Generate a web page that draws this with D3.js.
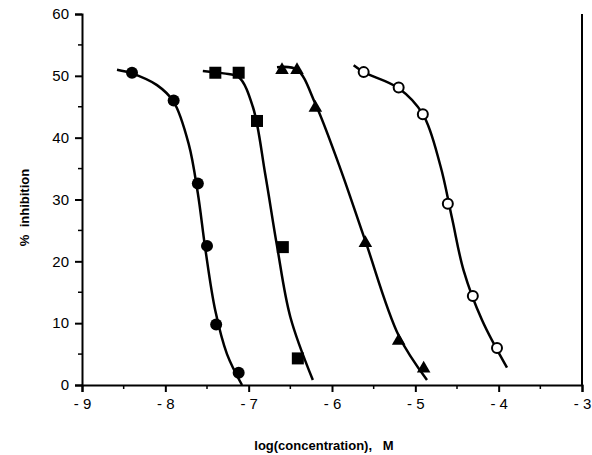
<!DOCTYPE html>
<html><head><meta charset="utf-8">
<script src="https://cdn.jsdelivr.net/npm/d3@7"></script>
<style>body{margin:0;background:#fff}svg{display:block}</style>
</head><body>
<svg id="c" width="592" height="455"></svg>
<script>
// ---- data ----
const xTicks = [-9,-8,-7,-6,-5,-4,-3];
const yTicks = [0,10,20,30,40,50,60];
// filled circles
const circlePts = [[-8.40,50.5],[-7.90,46.0],[-7.61,32.6],[-7.50,22.5],[-7.39,9.8],[-7.12,2.0]];
const circleCurve = [[-8.58,51.0],[-8.40,50.4],[-8.10,48.5],[-7.90,45.8],[-7.72,39.0],[-7.61,31.0],[-7.52,22.0],[-7.40,12.0],[-7.26,5.0],[-7.08,0.0]];
// filled squares
const squarePts = [[-7.40,50.5],[-7.12,50.5],[-6.90,42.7],[-6.59,22.3],[-6.41,4.3]];
const squareCurve = [[-7.55,50.8],[-7.30,50.4],[-7.12,49.8],[-6.95,45.0],[-6.80,34.0],[-6.66,22.5],[-6.50,11.0],[-6.23,0.8]];
// filled triangles
const trianglePts = [[-6.60,51.1],[-6.42,51.1],[-6.20,45.0],[-5.60,23.1],[-5.20,7.3],[-4.90,2.8]];
const triangleCurve = [[-6.66,51.4],[-6.42,51.0],[-6.20,45.5],[-5.90,35.0],[-5.60,23.3],[-5.20,8.0],[-4.86,0.8]];
// open circles
const openPts = [[-5.62,50.6],[-5.20,48.1],[-4.91,43.8],[-4.61,29.3],[-4.31,14.4],[-4.02,6.0]];
const openCurve = [[-5.74,51.7],[-5.62,50.6],[-5.20,48.0],[-4.91,43.8],[-4.70,35.5],[-4.56,27.0],[-4.42,18.5],[-4.20,10.5],[-3.90,2.8]];

const xLabel = "log(concentration),   M";
const yLabel = "%  inhibition";

// ---- drawing ----
const svg = d3.select("#c");
const L = 82, R = 582, T = 14, B = 385;
const x = d3.scaleLinear().domain([-9,-3]).range([L,R]);
const y = d3.scaleLinear().domain([0,60]).range([B,T]);
const font = "'Liberation Sans', Arial, sans-serif";

// axes
const xAxis = d3.axisBottom(x).tickValues(xTicks).tickSize(7).tickPadding(6)
  .tickFormat(d => "- " + Math.abs(d));
const gx = svg.append("g").attr("transform",`translate(0,${B})`).call(xAxis);
const yAxis = d3.axisLeft(y).tickValues(yTicks).tickSize(7).tickPadding(6);
const gy = svg.append("g").attr("transform",`translate(${L},0)`).call(yAxis);
[gx,gy].forEach(g=>{
  g.select(".domain").attr("stroke","#000").attr("stroke-width",2);
  g.selectAll(".tick line").attr("stroke","#000").attr("stroke-width",2);
  g.selectAll(".tick text").attr("fill","#000").style("font-family",font)
   .style("font-size","15px");
});
// minor ticks
const xMinor = d3.range(-8.5,-3,1);
svg.append("g").selectAll("line").data(xMinor).join("line")
  .attr("x1",d=>x(d)).attr("x2",d=>x(d)).attr("y1",B).attr("y2",B+4)
  .attr("stroke","#000").attr("stroke-width",1.5);
const yMinor = d3.range(5,60,10);
svg.append("g").selectAll("line").data(yMinor).join("line")
  .attr("x1",L-4).attr("x2",L).attr("y1",d=>y(d)).attr("y2",d=>y(d))
  .attr("stroke","#000").attr("stroke-width",1.5);
// right frame line
svg.append("line").attr("x1",R).attr("x2",R).attr("y1",T).attr("y2",B)
  .attr("stroke","#000").attr("stroke-width",2);

// axis titles
svg.append("text").attr("x",(L+R)/2-8).attr("y",450).attr("text-anchor","middle")
  .style("font-family",font).style("font-weight","bold").style("font-size","13px")
  .style("white-space","pre").text(xLabel);
svg.append("text").attr("transform",`translate(29,${(T+B)/2+8}) rotate(-90)`)
  .attr("text-anchor","middle").style("font-family",font).style("font-weight","bold")
  .style("font-size","13px").style("white-space","pre").text(yLabel);

// curves
const line = d3.line().x(d=>x(d[0])).y(d=>y(d[1])).curve(d3.curveCatmullRom.alpha(0.5));
[circleCurve,squareCurve,triangleCurve,openCurve].forEach(c=>{
  svg.append("path").attr("d",line(c)).attr("fill","none")
    .attr("stroke","#000").attr("stroke-width",2.5);
});

// markers
svg.append("g").selectAll("circle").data(circlePts).join("circle")
  .attr("cx",d=>x(d[0])).attr("cy",d=>y(d[1])).attr("r",6).attr("fill","#000");
svg.append("g").selectAll("rect").data(squarePts).join("rect")
  .attr("x",d=>x(d[0])-6).attr("y",d=>y(d[1])-6).attr("width",12).attr("height",12).attr("fill","#000");
const tri = d3.symbol().type(d3.symbolTriangle).size(80);
svg.append("g").selectAll("path").data(trianglePts).join("path")
  .attr("transform",d=>`translate(${x(d[0])},${y(d[1])+1})`).attr("d",tri).attr("fill","#000");
svg.append("g").selectAll("circle").data(openPts).join("circle")
  .attr("cx",d=>x(d[0])).attr("cy",d=>y(d[1])).attr("r",5).attr("fill","#fff")
  .attr("stroke","#000").attr("stroke-width",2);
</script>
</body></html>
